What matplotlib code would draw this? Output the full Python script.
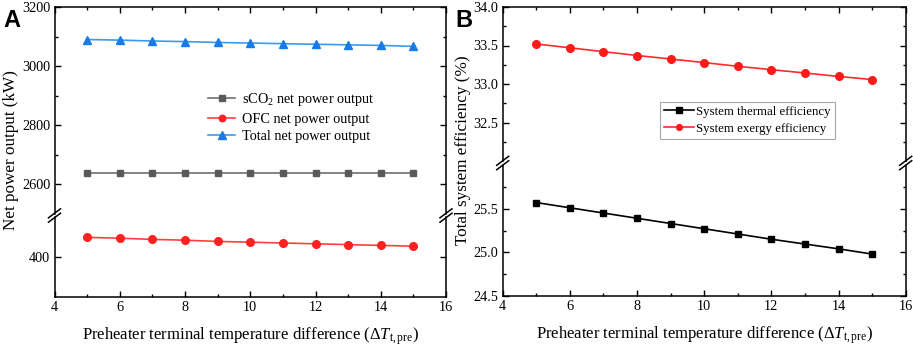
import matplotlib
matplotlib.use("Agg")
import matplotlib.pyplot as plt
from matplotlib.lines import Line2D
from matplotlib.ticker import MultipleLocator, FixedLocator, NullLocator

plt.rcParams['font.family'] = ['Liberation Serif', 'DejaVu Serif']
plt.rcParams['mathtext.fontset'] = 'custom'
plt.rcParams['mathtext.rm'] = 'Liberation Serif'
plt.rcParams['mathtext.it'] = 'Liberation Serif:italic'
plt.rcParams['mathtext.bf'] = 'Liberation Serif:bold'

# ---- data ----
dT = [5, 6, 7, 8, 9, 10, 11, 12, 13, 14, 15]
sco2_power = [2638, 2638, 2638, 2638, 2638, 2638, 2638, 2638, 2638, 2638, 2638]
ofc_power = [449, 447, 444, 442, 439, 437, 435, 433, 431, 429, 427]
total_power = [3090, 3088, 3085, 3083, 3080, 3078, 3076, 3074, 3072, 3070, 3067]
thermal_eff = [25.57, 25.51, 25.45, 25.39, 25.33, 25.27, 25.21, 25.15, 25.095, 25.04, 24.98]
exergy_eff = [33.52, 33.47, 33.42, 33.37, 33.325, 33.278, 33.23, 33.186, 33.143, 33.098, 33.058]

W, H = 913, 348
fig = plt.figure(figsize=(W / 100, H / 100), dpi=100)


def px_axes(x0, x1, ytop, ybot):
    return fig.add_axes([x0 / W, 1 - ybot / H, (x1 - x0) / W, (ybot - ytop) / H])


TICK_FS = 10.3
LABEL_FS = 12
YLABEL_FS = 12.3
LEG_FS = 10.3


def style(ax, top=True, bottom=True):
    for s in ax.spines.values():
        s.set_linewidth(1.1)
    ax.spines['top'].set_visible(top)
    ax.spines['bottom'].set_visible(bottom)
    ax.tick_params(which='both', direction='in', left=True, right=True,
                   top=top, bottom=bottom, labelsize=TICK_FS, width=1.0, pad=3)
    ax.tick_params(which='major', length=4)
    ax.tick_params(which='minor', length=2.5)
    ax.set_xlim(4, 16)
    ax.xaxis.set_major_locator(MultipleLocator(2))
    ax.xaxis.set_minor_locator(MultipleLocator(1))


def breakmark(cx, cy):
    for off in (-2.2, 2.2):
        x = [(cx - 6) / W, (cx + 6) / W]
        y = [1 - (cy + off + 4.5) / H, 1 - (cy + off - 4.5) / H]
        fig.add_artist(Line2D(x, y, color='black', lw=1.1, transform=fig.transFigure))


# ---------------- Panel A ----------------
axA_top = px_axes(54.5, 446, 7, 214)
axA_bot = px_axes(54.5, 446, 217, 297)
for ax in (axA_top, axA_bot):
    ax.plot(dT, sco2_power, color='#6e6e6e', lw=1.2, marker='s', ms=5,
            mfc='#5a5a5a', mec='#5a5a5a', label=r'sCO$_2$ net power output')
    ax.plot(dT, ofc_power, color='#ff4040', lw=1.2, marker='o', ms=5.5,
            mfc='#ff2020', mec='#ff2020', label='OFC net power output')
    ax.plot(dT, total_power, color='#3a9af0', lw=1.2, marker='^', ms=6,
            mfc='#1a7ae6', mec='#1a7ae6', label='Total net power output')

style(axA_top, top=True, bottom=False)
style(axA_bot, top=False, bottom=True)
axA_top.set_ylim(2500, 3200)
axA_top.yaxis.set_major_locator(FixedLocator([2600, 2800, 3000, 3200]))
axA_top.yaxis.set_minor_locator(FixedLocator([2700, 2900, 3100]))
axA_top.tick_params(axis='x', labelbottom=False)
axA_bot.set_ylim(300, 500)
axA_bot.yaxis.set_major_locator(FixedLocator([400]))
axA_bot.yaxis.set_minor_locator(NullLocator())
axA_bot.set_xlabel(r'Preheater terminal temperature difference ($\Delta\mathit{T}_{\mathrm{t,pre}}$)',
                   fontsize=LABEL_FS, labelpad=8)
fig.text(11 / W, 1 - 150 / H, 'Net power output (kW)', rotation=90, fontsize=YLABEL_FS,
         ha='center', va='center')
breakmark(54.5, 215.5)
breakmark(446, 215.5)

legA = axA_top.legend(loc='upper left', bbox_to_anchor=(208 / W, 1 - 91.5 / H),
                      bbox_transform=fig.transFigure, frameon=False,
                      fontsize=LEG_FS, handlelength=1.9, handletextpad=0.5,
                      labelspacing=0.3, borderpad=0.0, borderaxespad=0,
                      markerscale=0.85)

fig.text(3 / W, 1 - 27 / H, 'A', fontsize=17, fontweight='bold',
         family='Liberation Sans')

# ---------------- Panel B ----------------
axB_top = px_axes(502.7, 905.7, 7, 161)
axB_bot = px_axes(502.7, 905.7, 165, 296)
for ax in (axB_top, axB_bot):
    ax.plot(dT, thermal_eff, color='black', lw=1.2, marker='s', ms=5,
            mfc='black', mec='black', label='System thermal efficiency')
    ax.plot(dT, exergy_eff, color='#ff2a2a', lw=1.2, marker='o', ms=5.5,
            mfc='#ff1a1a', mec='#ff1a1a', label='System exergy efficiency')

style(axB_top, top=True, bottom=False)
style(axB_bot, top=False, bottom=True)
axB_top.set_ylim(32.0, 34.0)
axB_top.yaxis.set_major_locator(FixedLocator([32.5, 33.0, 33.5, 34.0]))
axB_top.yaxis.set_minor_locator(FixedLocator([32.25, 32.75, 33.25, 33.75]))
axB_top.yaxis.set_major_formatter(plt.FuncFormatter(lambda v, p: f'{v:.1f}'))
axB_top.tick_params(axis='x', labelbottom=False)
axB_bot.set_ylim(24.5, 26.0)
axB_bot.yaxis.set_major_locator(FixedLocator([24.5, 25.0, 25.5]))
axB_bot.yaxis.set_minor_locator(FixedLocator([24.75, 25.25, 25.75]))
axB_bot.yaxis.set_major_formatter(plt.FuncFormatter(lambda v, p: f'{v:.1f}'))
axB_bot.set_xlabel(r'Preheater terminal temperature difference ($\Delta\mathit{T}_{\mathrm{t,pre}}$)',
                   fontsize=LABEL_FS, labelpad=8)
fig.text(463 / W, 1 - 150 / H, 'Total system efficiency (%)', rotation=90, fontsize=YLABEL_FS,
         ha='center', va='center')
breakmark(502.7, 163)
breakmark(905.7, 163)

legB = axB_top.legend(loc='upper left', bbox_to_anchor=(660 / W, 1 - 101.7 / H),
                      bbox_transform=fig.transFigure, frameon=True, fancybox=False,
                      edgecolor='#909090', fontsize=9.3, handlelength=2.3,
                      handletextpad=0.2, labelspacing=0.4, borderpad=0.3,
                      borderaxespad=0, markerscale=0.75)
legB.get_frame().set_linewidth(0.8)

fig.text(455 / W, 1 - 27 / H, 'B', fontsize=17, fontweight='bold',
         family='Liberation Sans')

fig.savefig('out.png', dpi=100)
